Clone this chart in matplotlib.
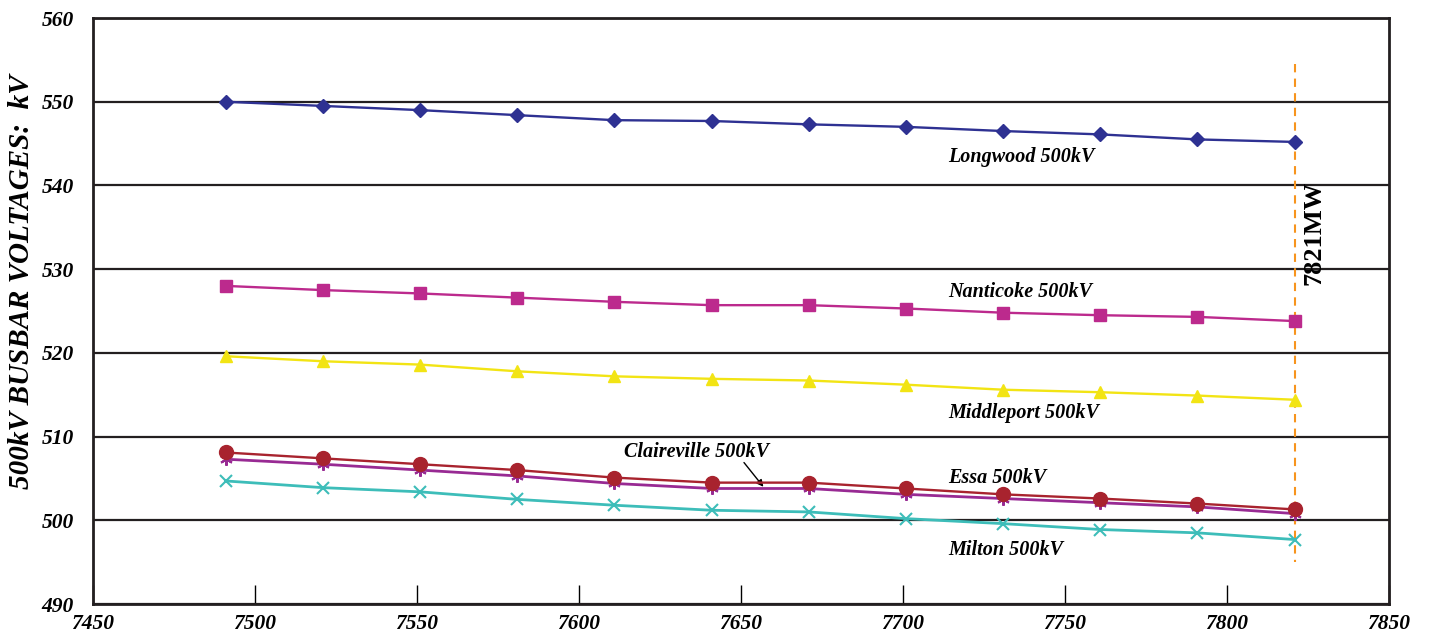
import matplotlib
matplotlib.use("Agg")
import matplotlib.pyplot as plt

## load power (MW) and busbar voltages (kV)
load_mw = [7491, 7521, 7551, 7581, 7611, 7641, 7671, 7701, 7731, 7761, 7791, 7821]

longwood = [550.0, 549.5, 549.0, 548.4, 547.8, 547.7, 547.3, 547.0, 546.5, 546.1, 545.5, 545.2]
nanticoke = [528.0, 527.5, 527.1, 526.6, 526.1, 525.7, 525.7, 525.3, 524.8, 524.5, 524.3, 523.8]
middleport = [519.6, 519.0, 518.6, 517.8, 517.2, 516.9, 516.7, 516.2, 515.6, 515.3, 514.9, 514.4]
essa = [508.1, 507.4, 506.7, 506.0, 505.1, 504.5, 504.5, 503.8, 503.1, 502.6, 502.0, 501.3]
claireville = [507.3, 506.7, 506.0, 505.3, 504.4, 503.8, 503.8, 503.1, 502.6, 502.1, 501.6, 500.8]
milton = [504.7, 503.9, 503.4, 502.5, 501.8, 501.2, 501.0, 500.2, 499.6, 498.9, 498.5, 497.7]

limit_mw = 7821

xticks = [7450, 7500, 7550, 7600, 7650, 7700, 7750, 7800, 7850]
yticks = [490, 500, 510, 520, 530, 540, 550, 560]

fig = plt.figure(figsize=(14.3, 6.35), dpi=100)
ax = fig.add_axes([0.065, 0.0488, 0.906, 0.9228])

bi = dict(family="Liberation Serif", fontweight="bold", fontstyle="italic")

## grid lines
for y in yticks:
	ax.axhline(y, color="#231f20", lw=1.6, zorder=1)

ax.plot(load_mw, longwood, color="#2e3192", marker="D", ms=7, lw=1.7, zorder=3)
ax.plot(load_mw, nanticoke, color="#bc2a8d", marker="s", ms=8, lw=1.7, zorder=3)
ax.plot(load_mw, middleport, color="#f2e414", marker="^", ms=9, lw=1.7, zorder=3)
ax.plot(load_mw, claireville, color="#982a93", marker=(6, 2, 0), ms=9, mew=1.5, lw=2, zorder=3)
ax.plot(load_mw, essa, color="#a8232e", marker="o", ms=10, lw=1.7, zorder=4)
ax.plot(load_mw, milton, color="#3dbdb9", marker="x", ms=8, mew=1.5, lw=2, zorder=3)

## limit line
ax.plot([limit_mw, limit_mw], [554.5, 495], color="#f7941d", lw=1.5, ls=(0, (4, 3)), zorder=2)
ax.text(7827, 534.3, "7821MW", rotation=90, ha="center", va="center",
	family="Liberation Serif", fontweight="bold", fontsize=19)

## station labels
ax.text(7714, 543.4, "Longwood 500kV", fontsize=14.5, va="center", **bi)
ax.text(7714, 527.3, "Nanticoke 500kV", fontsize=14.5, va="center", **bi)
ax.text(7714, 512.8, "Middleport 500kV", fontsize=14.5, va="center", **bi)
ax.text(7714, 505.0, "Essa 500kV", fontsize=14.5, va="center", **bi)
ax.text(7714, 496.5, "Milton 500kV", fontsize=14.5, va="center", **bi)
ax.text(7614, 508.1, "Claireville 500kV", fontsize=14.5, va="center", **bi)
ax.annotate("", xy=(7657, 504.0), xytext=(7651, 506.9),
	arrowprops=dict(arrowstyle="-|>", color="black", lw=1, shrinkA=0, shrinkB=0,
		mutation_scale=10))

ax.set_xlim(7450, 7850)
ax.set_ylim(490, 560)
ax.set_xticks(xticks)
ax.set_yticks(yticks)
ax.tick_params(axis="x", direction="in", length=14, width=1, pad=7)
ax.tick_params(axis="y", length=0, pad=14)
for lab in ax.get_xticklabels() + ax.get_yticklabels():
	lab.set_fontsize(15.5)
	lab.set_fontfamily("Liberation Serif")
	lab.set_fontweight("bold")
	lab.set_fontstyle("italic")
for s in ax.spines.values():
	s.set_linewidth(2)
	s.set_color("#231f20")

fig.text(22 / 1430, 1 - 282 / 635, "500kV BUSBAR VOLTAGES:  kV", rotation=90,
	ha="center", va="center", fontsize=21, **bi)

fig.savefig("out.png", dpi=100)
